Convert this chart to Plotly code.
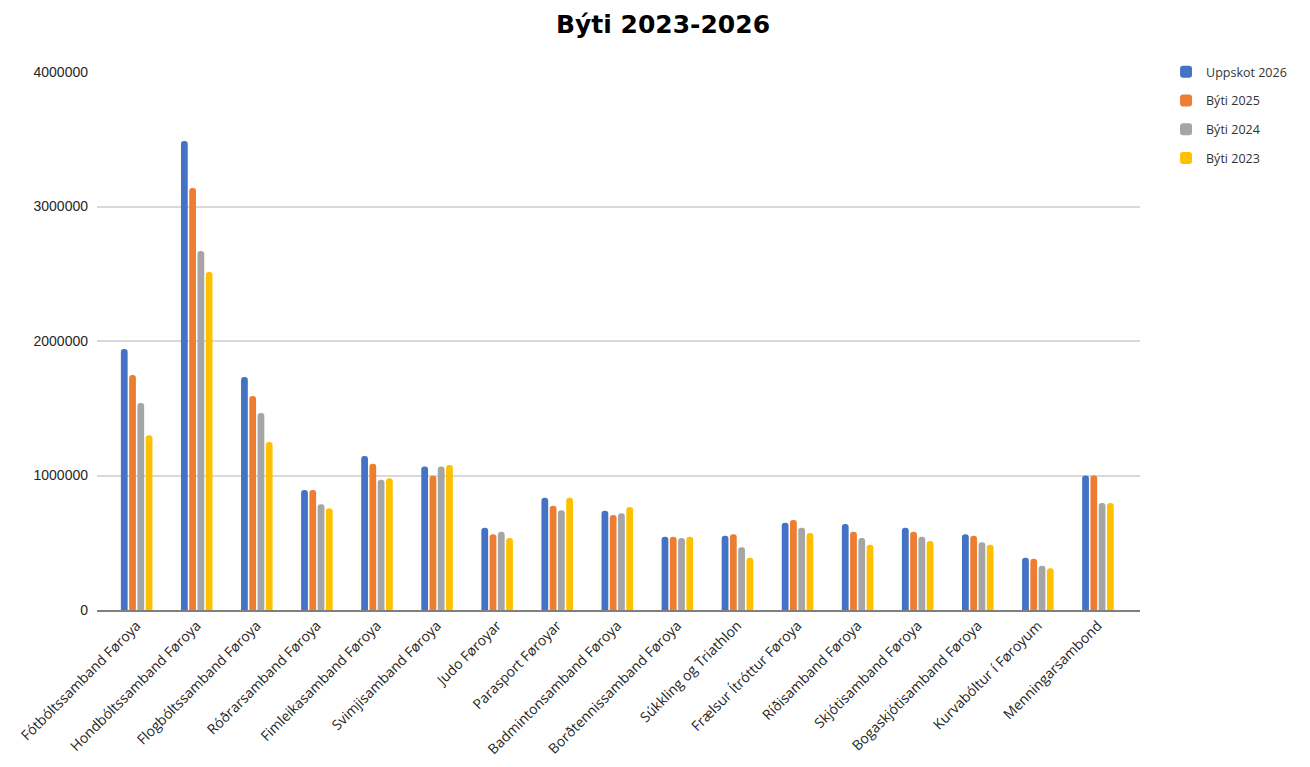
import plotly.graph_objects as go

categories = [
    "Fótbóltssamband Føroya", "Hondbóltssamband Føroya", "Flogbóltssamband Føroya",
    "Róðrarsamband Føroya", "Fimleikasamband Føroya", "Svimjisamband Føroya",
    "Judo Føroyar", "Parasport Føroyar", "Badmintonsamband Føroya",
    "Borðtennissamband Føroya", "Súkkling og Triathlon", "Frælsur Ítróttur Føroya",
    "Ríðisamband Føroya", "Skjótisamband Føroya", "Bogaskjótisamband Føroya",
    "Kurvabóltur í Føroyum", "Menningarsambond",
]

uppskot_2026 = [1940000, 3487000, 1732000, 892000, 1145000, 1066000, 612000, 835000, 738000,
                545000, 552000, 649000, 639000, 612000, 563000, 389000, 1000000]
byti_2025 = [1747000, 3137000, 1591000, 892000, 1088000, 999000, 563000, 776000, 706000,
             545000, 563000, 669000, 582000, 582000, 552000, 381000, 1000000]
byti_2024 = [1539000, 2669000, 1465000, 786000, 969000, 1066000, 582000, 741000, 719000,
             535000, 466000, 612000, 535000, 545000, 503000, 329000, 796000]
byti_2023 = [1300000, 2513000, 1249000, 756000, 979000, 1078000, 535000, 835000, 766000,
             545000, 389000, 572000, 486000, 513000, 486000, 310000, 796000]

series = [
    ("Uppskot 2026", uppskot_2026, "#4472C4"),
    ("Býti 2025", byti_2025, "#ED7D31"),
    ("Býti 2024", byti_2024, "#A5A5A5"),
    ("Býti 2023", byti_2023, "#FFC000"),
]

fig = go.Figure()
for name, vals, col in series:
    fig.add_trace(go.Bar(x=categories, y=vals, name=name, marker_color=col,
                         marker_line_width=0, legendgroup=name))

fig.update_layout(
    width=1310, height=767,
    paper_bgcolor="white", plot_bgcolor="white",
    title=dict(text="<b>Býti 2023-2026</b>", x=0.5, xanchor="center", y=0.979, yanchor="middle",
               font=dict(family="DejaVu Sans", size=25, color="black")),
    margin=dict(l=89, r=178, t=64, b=165, autoexpand=False),
    barmode="group", bargap=0.45, bargroupgap=0.18, barcornerradius=3,
    font=dict(family="Liberation Sans", size=12, color="#333333"),
    legend=dict(xref="container", yref="container", x=0.884, y=0.936,
                xanchor="left", yanchor="top",
                font=dict(family="Open Sans", size=12.5, color="#333333"),
                tracegroupgap=9.5, itemwidth=30),
    xaxis=dict(tickangle=-45, showgrid=False, showline=True, linecolor="#7f7f7f", linewidth=2,
               range=[-0.66, 16.7], automargin=False,
               ticks="", tickfont=dict(family="Open Sans", size=14, color="#262626")),
    yaxis=dict(range=[0, 4000000], tickvals=[0, 1000000, 2000000, 3000000, 4000000],
               tickformat="d", showgrid=True, gridcolor="#d9d9d9", gridwidth=1.5,
               zeroline=False, ticks="", ticklabelstandoff=8, automargin=False,
               tickfont=dict(family="Liberation Sans", size=14, color="#262626")),
)

fig.write_html("out.html")
